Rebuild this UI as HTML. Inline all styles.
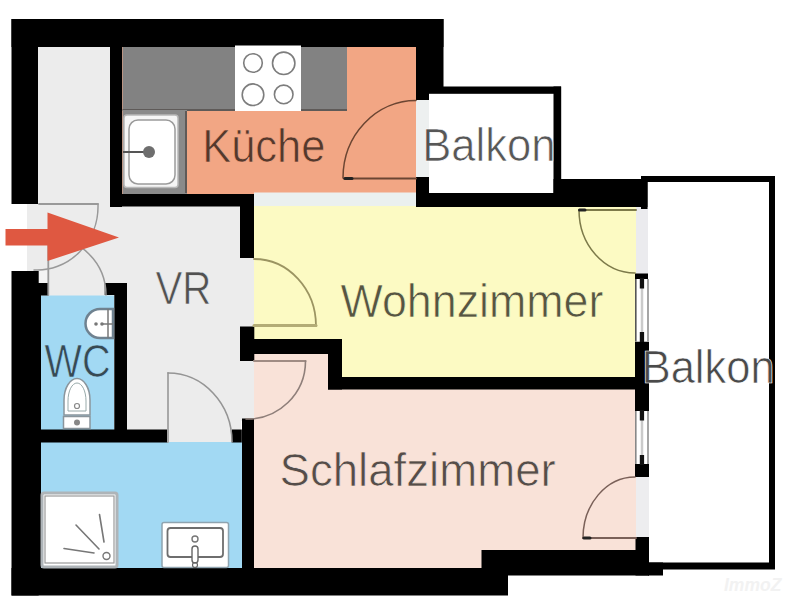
<!DOCTYPE html>
<html><head><meta charset="utf-8"><title>Grundriss</title>
<style>
html,body{margin:0;padding:0;background:#fff;width:800px;height:600px;overflow:hidden}
svg{display:block}
text{font-family:"Liberation Sans",sans-serif}
</style></head><body>
<svg width="800" height="600" viewBox="0 0 800 600">
<rect x="0" y="0" width="800" height="600" fill="#fff"/>
<!-- ROOM FILLS -->
<g id="fills">
  <!-- VR / entry -->
  <rect x="38" y="47" width="72" height="160" fill="#ececec"/>
  <rect x="27" y="204" width="214" height="238" fill="#ececec"/>
  <rect x="240" y="255" width="14" height="166" fill="#ececec"/>
  <rect x="38.7" y="271" width="9.6" height="12" fill="#f4f4f4"/>
  <!-- kitchen -->
  <rect x="122" y="47" width="294" height="147" fill="#f2a684"/>
  <!-- strip between kitchen and living -->
  <rect x="254" y="192.5" width="162" height="15" fill="#ebf0ef"/>
  <!-- bedroom -->
  <rect x="254" y="353" width="382" height="215" fill="#f9e2d8"/>
  <!-- living -->
  <rect x="254" y="206" width="382" height="134" fill="#fcfac3"/>
  <rect x="342" y="339" width="294" height="39" fill="#fcfac3"/>
  <!-- WC -->
  <rect x="40" y="295.5" width="74" height="136" fill="#a2d9f3"/>
  <!-- bath -->
  <rect x="40" y="442" width="202" height="126" fill="#a2d9f3"/>
  <!-- openings -->
  <rect x="416" y="98" width="13" height="80" fill="#edf0f0"/>
  <rect x="636" y="207" width="12" height="68" fill="#ebebee"/>
  <rect x="636" y="475" width="13" height="64" fill="#ededef"/>
</g>
<!-- WALLS -->
<g id="walls" fill="#000">
  <rect x="11.5" y="19" width="432" height="28"/>
  <rect x="11.5" y="19" width="26.5" height="185"/>
  <rect x="11.5" y="271" width="27.2" height="324.5"/>
  <rect x="38" y="294" width="3" height="280"/>
  <rect x="110" y="47" width="12" height="160"/>
  <rect x="110" y="194" width="144" height="12.5"/>
  <rect x="240" y="194" width="14" height="64"/>
  <rect x="240" y="326.5" width="14.3" height="34.5"/>
  <rect x="241" y="339" width="101" height="15"/>
  <rect x="328" y="339" width="14" height="50.5"/>
  <rect x="328" y="377" width="320" height="12.5"/>
  <rect x="242" y="418.5" width="12" height="150"/>
  <rect x="231.8" y="429.5" width="10" height="13"/>
  <!-- kitchen right -->
  <rect x="416" y="19" width="27.5" height="69"/>
  <rect x="416" y="19" width="13" height="81"/>
  <!-- upper balkon -->
  <rect x="428" y="86.5" width="133" height="7.3"/>
  <rect x="553.5" y="86.5" width="7.7" height="107"/>
  <rect x="416" y="177" width="13" height="30"/>
  <rect x="416" y="193" width="144" height="14"/>
  <rect x="553.5" y="179" width="94" height="28"/>
  <!-- big balkon -->
  <rect x="641.5" y="176" width="133.5" height="6"/>
  <rect x="641" y="176" width="6.5" height="33"/>
  <rect x="769" y="176" width="6" height="393"/>
  <rect x="648" y="562.5" width="127" height="7"/>
  <!-- right wall living/bed -->
  <rect x="635" y="273.5" width="13" height="5.5"/>
  <rect x="635" y="341.5" width="14" height="69.5"/>
  <rect x="635" y="463.7" width="14" height="13.3"/>
  <rect x="635.5" y="537" width="13.5" height="38.5"/>
  <!-- WC -->
  <rect x="38" y="283" width="10.3" height="12.5"/>
  <rect x="104.7" y="283" width="22.3" height="12"/>
  <rect x="114.3" y="283" width="12.7" height="148"/>
  <rect x="38" y="429.5" width="130" height="13"/>
  <!-- bottom -->
  <rect x="11.5" y="568" width="496.5" height="27.5"/>
  <rect x="481.5" y="550" width="167.5" height="25.5"/>
  <rect x="648" y="562.5" width="15" height="13"/>
</g>

<!-- KITCHEN FIXTURES -->
<g id="kitchen">
  <rect x="122.5" y="47" width="224.5" height="63" fill="#828282"/>
  <rect x="122.5" y="109" width="224.5" height="2" fill="#5e5a58"/>
  <rect x="122.5" y="110" width="64.5" height="84" fill="#8a8a8a"/>
  <rect x="185" y="111" width="2" height="82" fill="#5f5a58"/>
  <rect x="124" y="115" width="54" height="72.5" rx="3" fill="#f5f5f5" stroke="#b8b8b8" stroke-width="1.5"/>
  <rect x="129" y="120" width="46" height="64" rx="9" fill="#fff" stroke="#9a9a9a" stroke-width="1.5"/>
  <line x1="123" y1="152" x2="144" y2="152" stroke="#555" stroke-width="2"/>
  <circle cx="149" cy="152" r="6" fill="#6e6e6e"/>
  <rect x="235" y="45.5" width="66" height="65.5" fill="#fff"/>
  <g fill="none" stroke="#7d7d7d" stroke-width="1.6">
    <circle cx="253" cy="63" r="9.3"/>
    <circle cx="283.7" cy="63.3" r="11.2"/>
    <circle cx="253" cy="94.7" r="10.8"/>
    <circle cx="283.7" cy="94.4" r="9.3"/>
  </g>
</g>
<!-- DOORS -->
<g id="doors" fill="none" stroke-linecap="round">
  <!-- kitchen -> balkon -->
  <path d="M416,100.5 A73,77.5 0 0 0 343,178" stroke="#6b4532" stroke-width="1.5"/>
  <line x1="344" y1="178.5" x2="416" y2="178.5" stroke="#6b4532" stroke-width="2"/>
  <line x1="345" y1="178.5" x2="352" y2="178.5" stroke="#222" stroke-width="3"/>
  <!-- entry upper -->
  <line x1="39" y1="204" x2="98" y2="204" stroke="#999" stroke-width="1.8"/>
  <path d="M98,204 A61,64 0 0 1 34,270" stroke="#999" stroke-width="1.5"/>
  <!-- entry lower -->
  <line x1="48.3" y1="240" x2="48.3" y2="295" stroke="#9a9a9a" stroke-width="1.8"/>
  <path d="M48.5,237 A58,58 0 0 1 106,295" stroke="#999" stroke-width="1.5"/>
  <!-- VR -> living -->
  <path d="M254,259 A62,67 0 0 1 316,326" stroke="#9b9462" stroke-width="1.8"/>
  <line x1="254" y1="325.5" x2="316" y2="325.5" stroke="#b3ac76" stroke-width="3"/>
  <!-- VR -> bedroom -->
  <line x1="254" y1="361" x2="305.5" y2="361" stroke="#a08c84" stroke-width="2.2"/>
  <path d="M305.5,361 A58,58 0 0 1 246,419" stroke="#8f7f7a" stroke-width="1.6"/>
  <!-- VR -> bath -->
  <line x1="168" y1="373" x2="168" y2="442" stroke="#a8a8a8" stroke-width="2"/>
  <path d="M168,373 A64,69 0 0 1 232,442" stroke="#959595" stroke-width="1.6"/>
  <!-- living -> big balkon -->
  <path d="M579,210 A56,63 0 0 0 635,273" stroke="#7d7a4a" stroke-width="1.5"/>
  <line x1="580" y1="210" x2="636" y2="210" stroke="#7d7a4a" stroke-width="2"/>
  <line x1="579.5" y1="210" x2="585" y2="210" stroke="#222" stroke-width="3"/>
  <!-- bedroom -> big balkon -->
  <path d="M635,477 A52,61 0 0 0 583,538" stroke="#7a6058" stroke-width="1.5"/>
  <line x1="583" y1="538" x2="636" y2="538" stroke="#7a6058" stroke-width="2"/>
  <line x1="584" y1="538" x2="590" y2="538" stroke="#222" stroke-width="3"/>
</g>
<!-- WINDOWS -->
<g id="windows">
  <rect x="635" y="279" width="14" height="62.5" fill="#fff"/>
  <line x1="635.8" y1="279" x2="635.8" y2="341.5" stroke="#555" stroke-width="1.6"/>
  <line x1="648" y1="279" x2="648" y2="341.5" stroke="#9c9c9c" stroke-width="1.8"/>
  <line x1="642" y1="279" x2="642" y2="341.5" stroke="#cacaca" stroke-width="2.5"/>
  <rect x="639.8" y="278" width="4.3" height="10.5" fill="#111"/>
  <rect x="639.8" y="332" width="4.3" height="10" fill="#111"/>
  <rect x="635" y="411" width="14" height="53" fill="#fff"/>
  <line x1="635.8" y1="411" x2="635.8" y2="464" stroke="#888" stroke-width="1.6"/>
  <line x1="648" y1="411" x2="648" y2="464" stroke="#9c9c9c" stroke-width="1.8"/>
  <line x1="642" y1="411" x2="642" y2="464" stroke="#cacaca" stroke-width="2.5"/>
  <rect x="639.8" y="410" width="4.3" height="10.5" fill="#111"/>
  <rect x="639.8" y="455" width="4.3" height="10" fill="#111"/>
</g>
<!-- WC FIXTURES -->
<g id="wc">
  <path d="M113,309 L100,309 A14.5,14.5 0 0 0 100,338 L113,338 Z" fill="#fff" stroke="#6f8290" stroke-width="2.5"/>
  <line x1="108" y1="309" x2="108" y2="338" stroke="#777" stroke-width="1.5"/>
  <line x1="103" y1="324" x2="113" y2="324" stroke="#777" stroke-width="1.5"/>
  <circle cx="96" cy="324" r="1.8" fill="#777"/>
  <circle cx="102" cy="324" r="1.8" fill="#777"/>
  <path d="M64,415 L64,400 C64,388 70,378.5 77,378.5 C84,378.5 90,388 90,400 L90,415 Z" fill="#fff" stroke="#8a959c" stroke-width="1.5"/>
  <path d="M68,411 L68,401 C68,391 72,383 77,383 C82,383 86,391 86,401 L86,411 Z" fill="#fff" stroke="#9aa" stroke-width="1"/>
  <circle cx="77" cy="406" r="2.5" fill="none" stroke="#888" stroke-width="1.2"/>
  <rect x="63.5" y="416.5" width="26.5" height="12" fill="#fff" stroke="#8a959c" stroke-width="1.5"/>
  <circle cx="77" cy="422.5" r="3" fill="#888"/>
</g>
<!-- BATH FIXTURES -->
<g id="bath">
  <rect x="42" y="493" width="75" height="74" rx="2" fill="#fff" stroke="#aeb4b8" stroke-width="3"/>
  <rect x="45" y="496" width="69" height="67" fill="#fff" stroke="#9a9a9a" stroke-width="1.2"/>
  <g stroke="#777" stroke-width="1.6" stroke-linecap="round">
    <line x1="64" y1="548.5" x2="94" y2="553"/>
    <line x1="76" y1="525" x2="99" y2="549"/>
    <line x1="99.5" y1="514.5" x2="104" y2="542"/>
  </g>
  <circle cx="106.5" cy="556" r="3.5" fill="none" stroke="#777" stroke-width="1.4"/>
  <rect x="162" y="522.5" width="66.5" height="45" rx="2" fill="#fff" stroke="#8fa4b0" stroke-width="1.5"/>
  <rect x="167.5" y="528" width="55.5" height="29" rx="3" fill="#fff" stroke="#6e6e6e" stroke-width="1.8"/>
  <circle cx="195" cy="539" r="3" fill="none" stroke="#777" stroke-width="1.4"/>
  <rect x="192" y="546" width="6" height="17" rx="3" fill="#fff" stroke="#666" stroke-width="1.4"/>
  <circle cx="195" cy="565" r="2.5" fill="none" stroke="#666" stroke-width="1.2"/>
</g>
<!-- ARROW -->
<path d="M5.5,229 L47.5,229 L47.5,212.5 L119,237.5 L47.5,261 L47.5,245.5 L5.5,245.5 Z" fill="#df5841"/>
<!-- TEXT -->
<g id="labels" font-family="Liberation Sans, sans-serif" font-size="47" fill="#000" fill-opacity="0.68">
  <text transform="translate(202.23,161.5) scale(0.9240,1)" stroke="#f2a684" stroke-width="0.7">Küche</text>
  <text transform="translate(422.22,161.25) scale(0.9281,1)" stroke="#fff" stroke-width="0.7">Balkon</text>
  <text transform="translate(340.50,317.3) scale(0.9529,1)" stroke="#fcfac3" stroke-width="0.7">Wohnzimmer</text>
  <text transform="translate(155.50,303.5) scale(0.8571,1)" stroke="#ececec" stroke-width="0.7">VR</text>
  <text transform="translate(44.50,377) scale(0.8442,1)" stroke="#a2d9f3" stroke-width="0.7">WC</text>
  <text transform="translate(641.73,383) scale(0.9245,1)" fill="#4a4a4a" fill-opacity="1" stroke="#fff" stroke-width="0.7">Balkon</text>
  <text transform="translate(279.56,486) scale(0.9700,1)" stroke="#f9e2d8" stroke-width="0.7">Schlafzimmer</text>
</g>
<text x="724" y="591" font-family="Liberation Sans, sans-serif" font-size="17.5" font-weight="bold" font-style="italic" fill="#f2f2f2">ImmoZ</text>
</svg>
</body></html>
